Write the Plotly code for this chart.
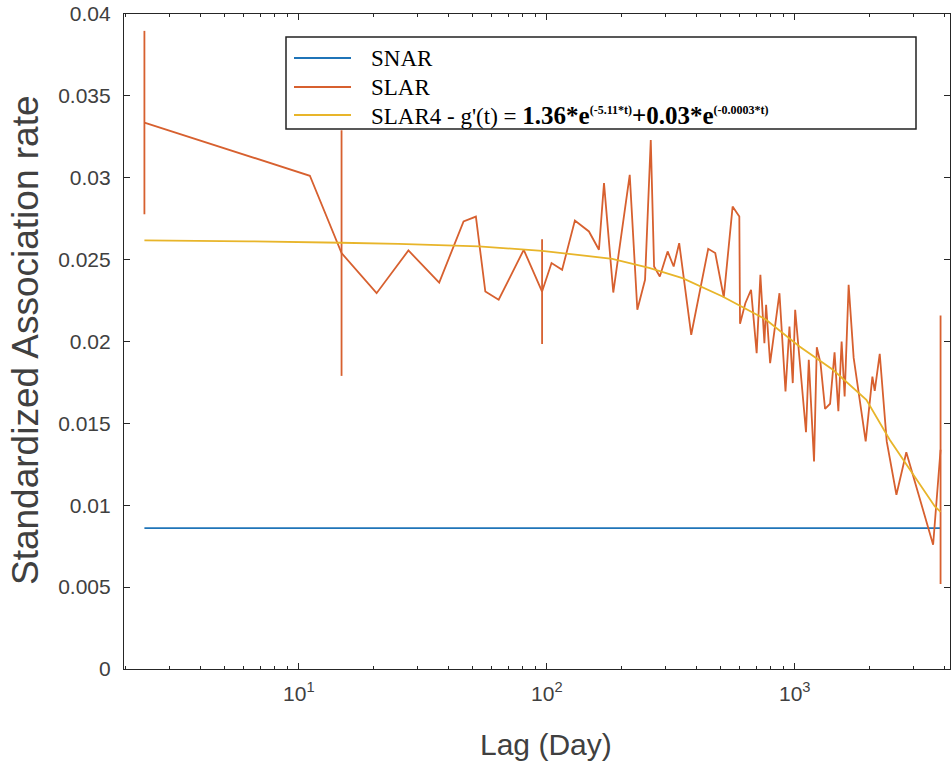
import plotly.graph_objects as go

# ---- data ----
slar_lag = [2.384, 11.08, 14.87, 20.59, 27.67, 36.82, 46.17, 51.77, 56.51, 63.96,
            80.72, 95.72, 104.5, 115.3, 129.8, 147.9, 162.3, 170.1, 185.4, 216.0,
            231.8, 249.0, 262.6, 270.8, 285.6, 307.1, 324.8, 341.9, 382.3, 447.7,
            477.9, 517.2, 561.5, 597.6, 601.5, 631.9, 666.4, 702.0, 726.7, 754.3,
            766.3, 795.4, 867.5, 917.5, 951.9, 981.5, 1003.7, 1110, 1139, 1165,
            1196, 1227, 1270, 1325, 1388, 1447, 1499, 1545, 1589, 1649,
            1728, 1932, 2056, 2101, 2201, 2349, 2570, 2817, 3614, 3872]
slar_val = [0.03337, 0.03012, 0.0254, 0.02295, 0.02556, 0.0236, 0.02733, 0.02763, 0.02305, 0.02255,
            0.0256, 0.02305, 0.02479, 0.02438, 0.02739, 0.02672, 0.0256, 0.02967, 0.02299, 0.03018,
            0.02194, 0.02377, 0.03231, 0.02458, 0.02397, 0.0255, 0.02458, 0.02601, 0.02041, 0.02566,
            0.0254, 0.0227, 0.02824, 0.02763, 0.02108, 0.02234, 0.02316, 0.01929, 0.02407, 0.0199,
            0.02224, 0.01868, 0.02295, 0.01695, 0.02092, 0.01746, 0.02194, 0.01446, 0.01888, 0.01614,
            0.01267, 0.01965, 0.01868, 0.01589, 0.0162, 0.01934, 0.01574, 0.02, 0.01664, 0.02346,
            0.019, 0.0139, 0.01786, 0.01699, 0.01925, 0.0139, 0.01064, 0.01324, 0.00759, 0.01339]
# error half-widths (only a few points carry error bars)
slar_err = {0: 0.0056, 2: 0.0075, 11: 0.0032, 69: 0.0082}

snar_lag = [2.384, 3872]
snar_val = [0.0086, 0.0086]

fit_lag = [2.384, 6.24, 14.8, 25.2, 53.1, 95.7, 183.7, 258.5, 352.5, 511.5,
           766.3, 1045, 1425, 1944, 2415, 2910, 3672, 3872]
fit_val = [0.02617, 0.02612, 0.02603, 0.02596, 0.02581, 0.02554, 0.02505, 0.0245, 0.02387, 0.02275,
           0.02133, 0.0197, 0.01827, 0.01644, 0.014, 0.01217, 0.00993, 0.0096]

x_tickvals = [10, 100, 1000]
x_ticktext = ["10<sup>1</sup>", "10<sup>2</sup>", "10<sup>3</sup>"]
x_minor = [2, 3, 4, 5, 6, 7, 8, 9, 20, 30, 40, 50, 60, 70, 80, 90,
           200, 300, 400, 500, 600, 700, 800, 900, 2000, 3000, 4000]
y_tickvals = [0, 0.005, 0.01, 0.015, 0.02, 0.025, 0.03, 0.035, 0.04]
y_ticktext = ["0", "0.005", "0.01", "0.015", "0.02", "0.025", "0.03", "0.035", "0.04"]

x_title = "Lag (Day)"
y_title = "Standardized Association rate"
SUP = '<sup><span style="font-size:12px">{}</span></sup>'
legend_names = ["SNAR", "SLAR",
                "SLAR4 - g'(t) = <span style=\"font-size:25px\"><b>1.36*e"
                + SUP.format("(-5.11*t)") + "+0.03*e" + SUP.format("(-0.0003*t)") + "</b></span>"]

C_SNAR = "#1f74b8"
C_SLAR = "#d7602f"
C_FIT = "#e8b52a"

err_arr = [slar_err.get(i, 0) for i in range(len(slar_val))]

fig = go.Figure()
fig.add_trace(go.Scatter(x=snar_lag, y=snar_val, mode="lines", name="SNAR",
                         line=dict(color=C_SNAR, width=1.8), showlegend=False))
fig.add_trace(go.Scatter(x=slar_lag, y=slar_val, mode="lines", name="SLAR",
                         line=dict(color=C_SLAR, width=1.8), showlegend=False,
                         error_y=dict(type="data", array=err_arr, visible=True,
                                      color=C_SLAR, thickness=1.8, width=0)))
fig.add_trace(go.Scatter(x=fit_lag, y=fit_val, mode="lines", name="SLAR4",
                         line=dict(color=C_FIT, width=1.8), showlegend=False))

# plot area in pixels: x 124..950, y 14..669
L, R, T, B = 124, 950, 14, 669
def px(x):
    return (x - L) / (R - L)
def py(y):
    return (B - y) / (B - T)

shapes = [dict(type="rect", xref="paper", yref="paper",
               x0=px(286), x1=px(916), y0=py(129), y1=py(37),
               fillcolor="white", line=dict(color="#222222", width=1.5), layer="above")]
annotations = []
colors = [C_SNAR, C_SLAR, C_FIT]
rows = [58, 87, 115]
for name, c, r in zip(legend_names, colors, rows):
    shapes.append(dict(type="line", xref="paper", yref="paper",
                       x0=px(294), x1=px(351), y0=py(r), y1=py(r),
                       line=dict(color=c, width=1.8), layer="above"))
    annotations.append(dict(xref="paper", yref="paper", x=px(369), y=py(r),
                            text=name, showarrow=False, xanchor="left", yanchor="middle",
                            font=dict(family="Liberation Serif", size=23, color="black")))

# axis titles
annotations.append(dict(xref="paper", yref="paper", x=px(546), y=py(744),
                        text=x_title, showarrow=False, xanchor="center", yanchor="middle",
                        font=dict(family="Liberation Sans", size=30, color="#404040")))
annotations.append(dict(xref="paper", yref="paper", x=px(25), y=py(340),
                        text=y_title, showarrow=False, xanchor="center", yanchor="middle",
                        textangle=-90,
                        font=dict(family="Liberation Sans", size=37, color="#404040")))

fig.update_layout(
    width=952, height=765,
    margin=dict(l=L, r=952 - R, t=T, b=765 - B),
    paper_bgcolor="white", plot_bgcolor="white",
    font=dict(family="Liberation Sans", color="#404040"),
    shapes=shapes, annotations=annotations,
    xaxis=dict(type="log", range=[0.295, 3.626], automargin=False,
               tickvals=x_tickvals, ticktext=x_ticktext,
               ticks="inside", ticklen=6, tickcolor="#262626",
               showline=True, linecolor="#262626", linewidth=1.2, mirror="ticks",
               showgrid=False, zeroline=False, ticklabelstandoff=6,
               tickfont=dict(size=21, color="#404040"),
               minor=dict(tickvals=x_minor, ticks="inside", ticklen=3, tickcolor="#262626", showgrid=False)),
    yaxis=dict(range=[0, 0.04], automargin=False,
               tickvals=y_tickvals, ticktext=y_ticktext,
               ticks="inside", ticklen=6, tickcolor="#262626",
               showline=True, linecolor="#262626", linewidth=1.2, mirror="ticks",
               showgrid=False, zeroline=False, ticklabelstandoff=8,
               tickfont=dict(size=21, color="#404040")),
)

fig.write_html("out.html", config={"displayModeBar": False},
               post_script="document.body.style.margin='0';document.body.style.overflow='hidden';")
